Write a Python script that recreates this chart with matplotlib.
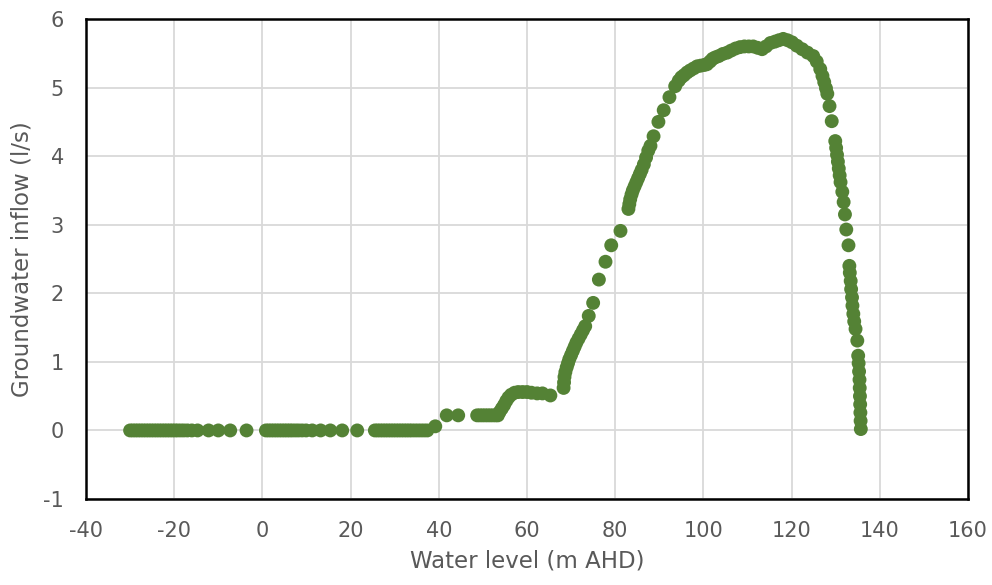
import matplotlib
matplotlib.use("Agg")
import matplotlib.pyplot as plt

# Groundwater inflow (l/s) against water level (m AHD)
water_level = [
    -30.0, -29.4, -28.8, -28.2, -27.6, -27.0, -26.4, -25.8, -25.2, -24.6,
    -24.0, -23.4, -22.8, -22.2, -21.6, -21.0, -20.4, -19.8, -19.2, -18.5,
    -17.8, -17.0, -16.0, -14.7, -12.2, -10.0, -7.3, -3.6,
    0.8, 1.4, 2.0, 2.6, 3.2, 3.8, 4.4, 5.0, 5.6, 6.2, 6.8, 7.5, 8.2, 9.0,
    9.9, 11.3, 13.2, 15.4, 18.1, 21.5,
    25.5, 26.1, 26.7, 27.3, 27.9, 28.5, 29.1, 29.7, 30.3, 30.9, 31.5, 32.1,
    32.7, 33.3, 33.9, 34.6, 35.3, 36.0, 36.7, 37.4,
    39.2, 41.8, 44.4,
    48.7, 49.3, 49.9, 50.5, 51.1, 51.7, 52.3, 52.9, 53.4,
    53.8, 54.3, 54.8, 55.3, 55.8, 56.4, 57.2, 58.0, 59.0, 60.0, 61.0, 62.3,
    63.5, 65.3,
    68.3, 68.4, 68.5, 68.7, 69.0, 69.3, 69.6, 70.0, 70.4, 70.8, 71.2, 71.7,
    72.2, 72.7, 73.2, 74.0, 75.0, 76.3, 77.8, 79.1, 81.2,
    83.0, 83.2, 83.4, 83.7, 84.0, 84.4, 84.8, 85.2, 85.6, 86.0, 86.5, 87.0,
    87.5, 88.0, 88.7, 89.8, 91.0, 92.3, 93.6, 94.4, 95.0, 95.6, 96.3, 97.0,
    97.8, 98.6, 99.4, 100.2, 100.8, 101.5, 102.1, 102.7, 103.5, 104.4, 105.4,
    106.3, 107.3, 108.3, 109.3, 110.3, 111.3, 112.3, 113.3, 114.2, 115.2,
    116.2, 117.1, 118.1, 119.1, 120.1, 121.2, 122.4, 123.6, 124.9, 125.7,
    126.5, 127.0, 127.4, 127.8, 128.1, 128.6, 129.1,
    129.9, 130.1, 130.3, 130.5, 130.7, 130.9, 131.1, 131.5, 131.8, 132.1,
    132.4, 132.9, 133.1, 133.2, 133.4, 133.5, 133.7, 133.8, 134.0, 134.2,
    134.5, 134.9, 135.1, 135.2, 135.3, 135.4, 135.45, 135.5, 135.55, 135.6,
    135.65, 135.7,
]
inflow = [
    0.0, 0.0, 0.0, 0.0, 0.0, 0.0, 0.0, 0.0, 0.0, 0.0,
    0.0, 0.0, 0.0, 0.0, 0.0, 0.0, 0.0, 0.0, 0.0, 0.0,
    0.0, 0.0, 0.0, 0.0, 0.0, 0.0, 0.0, 0.0,
    0.0, 0.0, 0.0, 0.0, 0.0, 0.0, 0.0, 0.0, 0.0, 0.0, 0.0, 0.0, 0.0, 0.0,
    0.0, 0.0, 0.0, 0.0, 0.0, 0.0,
    0.0, 0.0, 0.0, 0.0, 0.0, 0.0, 0.0, 0.0, 0.0, 0.0, 0.0, 0.0,
    0.0, 0.0, 0.0, 0.0, 0.0, 0.0, 0.0, 0.0,
    0.06, 0.22, 0.22,
    0.22, 0.22, 0.22, 0.22, 0.22, 0.22, 0.22, 0.22, 0.22,
    0.27, 0.32, 0.37, 0.43, 0.48, 0.52, 0.55, 0.56, 0.56, 0.56, 0.55, 0.54,
    0.54, 0.51,
    0.62, 0.70, 0.78, 0.85, 0.92, 0.98, 1.04, 1.10, 1.16, 1.22, 1.28, 1.34,
    1.40, 1.46, 1.52, 1.67, 1.86, 2.20, 2.46, 2.70, 2.91,
    3.23, 3.30, 3.37, 3.44, 3.50, 3.56, 3.62, 3.68, 3.74, 3.80, 3.88, 3.98,
    4.08, 4.15, 4.29, 4.50, 4.67, 4.86, 5.02, 5.10, 5.15, 5.18, 5.22, 5.25,
    5.28, 5.31, 5.32, 5.33, 5.34, 5.38, 5.42, 5.44, 5.46, 5.49, 5.51,
    5.54, 5.57, 5.59, 5.60, 5.60, 5.60, 5.58, 5.56, 5.60, 5.65,
    5.67, 5.69, 5.71, 5.69, 5.66, 5.61, 5.56, 5.51, 5.46, 5.38,
    5.27, 5.17, 5.08, 4.99, 4.91, 4.73, 4.51,
    4.22, 4.12, 4.02, 3.92, 3.82, 3.72, 3.62, 3.48, 3.33, 3.15,
    2.93, 2.70, 2.40, 2.30, 2.18, 2.06, 1.94, 1.82, 1.70, 1.59,
    1.48, 1.31, 1.09, 0.98, 0.86, 0.74, 0.62, 0.50, 0.38, 0.26,
    0.14, 0.02,
]
x_ticks = [-40, -20, 0, 20, 40, 60, 80, 100, 120, 140, 160]
y_ticks = [-1, 0, 1, 2, 3, 4, 5, 6]

plt.rcParams["font.family"] = ["DejaVu Sans"]
text_color = "#595959"

fig = plt.figure(figsize=(9.92, 5.85), dpi=100)
ax = fig.add_axes([0.0867, 0.1470, 0.8891, 0.8205])

ax.scatter(water_level, inflow, s=100, color="#548235", edgecolors="none",
           zorder=3)

ax.set_xlim(-40, 160)
ax.set_ylim(-1, 6)
ax.set_xticks(x_ticks)
ax.set_yticks(y_ticks)
ax.set_xticklabels([str(v) for v in x_ticks])
ax.set_yticklabels([str(v) for v in y_ticks])
ax.grid(True, color="#d9d9d9", linewidth=1.3, zorder=0)
ax.set_axisbelow(True)
ax.tick_params(length=0, labelsize=15, labelcolor=text_color)
ax.tick_params(axis="x", pad=16)
ax.tick_params(axis="y", pad=16)

for side in ax.spines.values():
    side.set_color("black")
    side.set_linewidth(1.8)

ax.set_xlabel("Water level (m AHD)", fontsize=16.5, color=text_color,
              labelpad=6)
ax.set_ylabel("Groundwater inflow (l/s)", fontsize=16.5, color=text_color,
              labelpad=7)

fig.savefig("out.png", dpi=100)
